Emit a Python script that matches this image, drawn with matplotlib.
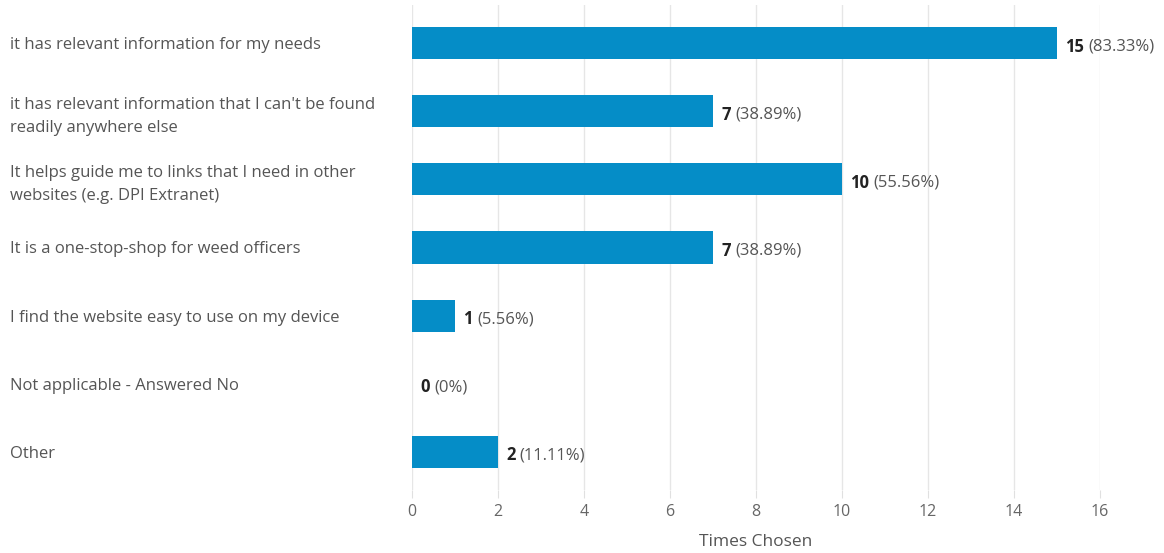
import matplotlib.pyplot as plt

# Survey answers and counts
categories = [
    "it has relevant information for my needs",
    "it has relevant information that I can't be found\nreadily anywhere else",
    "It helps guide me to links that I need in other\nwebsites (e.g. DPI Extranet)",
    "It is a one-stop-shop for weed officers",
    "I find the website easy to use on my device",
    "Not applicable - Answered No",
    "Other",
]
counts = [15, 7, 10, 7, 1, 0, 2]
percents = ["83.33%", "38.89%", "55.56%", "38.89%", "5.56%", "0%", "11.11%"]
x_ticks = [0, 2, 4, 6, 8, 10, 12, 14, 16]

plt.rcParams['font.family'] = ['Open Sans', 'DejaVu Sans']

fig = plt.figure(figsize=(11.64, 5.53), dpi=100)
ax = fig.add_axes([412 / 1164, 1 - 490 / 553, 688 / 1164, 485 / 553])

y = list(range(len(categories)))
ax.barh(y, counts, height=0.47, color='#058DC7', zorder=3)

ax.set_xlim(0, 16)
ax.set_ylim(6.56, -0.56)
ax.set_xticks(x_ticks)
ax.set_xticklabels([str(t) for t in x_ticks])
ax.grid(axis='x', color='#e6e6e6', linewidth=1, zorder=0)
for s in ax.spines.values():
    s.set_visible(False)

ax.tick_params(axis='x', colors='#e0e0e0', labelcolor='#666666', labelsize=11.5,
               length=6, pad=4)
ax.set_xlabel('Times Chosen', color='#555555', fontsize=12.5, labelpad=10)

ax.set_yticks(y)
ax.set_yticklabels(categories, ha='left', color='#555555', fontsize=12,
                   linespacing=1.55)
ax.tick_params(axis='y', length=0, pad=402 * 0.72)

# value labels: bold count followed by the percentage
fig.canvas.draw()
renderer = fig.canvas.get_renderer()
for yi, c, p in zip(y, counts, percents):
    t1 = ax.annotate(str(c), xy=(c, yi), xytext=(6, -1), textcoords='offset points',
                     va='center_baseline', ha='left', fontweight='bold', fontsize=12,
                     color='#222222', annotation_clip=False)
    w = t1.get_window_extent(renderer).width * 72 / fig.dpi
    ax.annotate('(' + p + ')', xy=(c, yi), xytext=(6 + w + 3, -1),
                textcoords='offset points', va='center_baseline', ha='left',
                fontsize=12, color='#555555', annotation_clip=False)

fig.savefig('out.png', dpi=100)
